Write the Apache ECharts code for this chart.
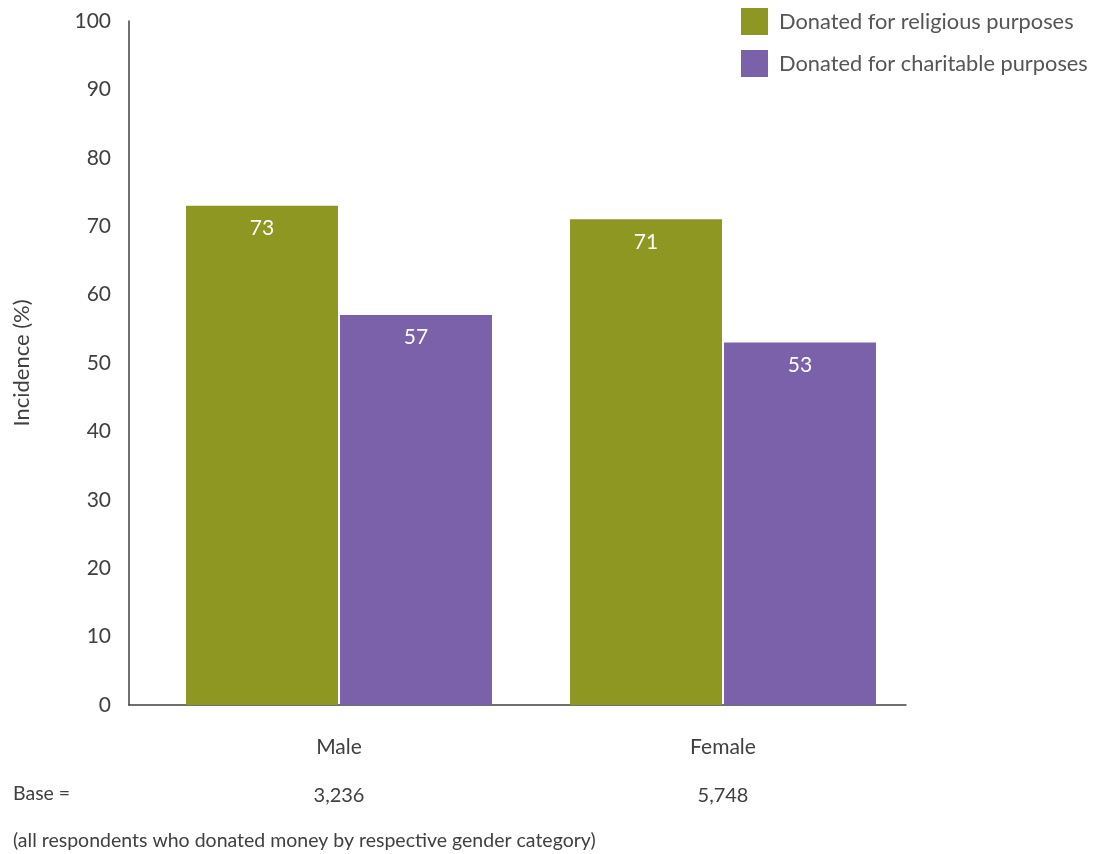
<!DOCTYPE html>
<html><head><meta charset="utf-8">
<script src="https://cdn.jsdelivr.net/npm/echarts@6/dist/echarts.min.js"></script>
<style>html,body{margin:0;padding:0;background:#fff}#c{width:1109px;height:854px}</style>
</head><body><div id="c"></div>
<script>
const categories = ['Male', 'Female'];
const baseValues = ['3,236', '5,748'];
const religious = [73, 71];
const charitable = [57, 53];
const seriesNames = ['Donated for religious purposes', 'Donated for charitable purposes'];
const yTicks = [0, 10, 20, 30, 40, 50, 60, 70, 80, 90, 100];

const FONT = 'Lato';
const green = '#8D9722', purple = '#7A61A9';
const chart = echarts.init(document.getElementById('c'), null, {renderer: 'canvas'});
const labelCfg = {show: true, position: 'insideTop', distance: 12, color: '#fff', fontSize: 21, fontFamily: FONT};
chart.setOption({
  animation: false,
  textStyle: {fontFamily: FONT},
  legend: {
    orient: 'vertical', left: 741, top: 8, padding: 0, itemWidth: 27, itemHeight: 27, itemGap: 15,
    icon: 'rect', data: seriesNames,
    textStyle: {fontSize: 21.8, color: '#555', fontFamily: FONT, padding: [0, 0, 0, 6]}
  },
  grid: [
    {left: 147, right: 194, top: 21, bottom: 149},
    {left: 129, right: 203, top: 21, bottom: 149}
  ],
  xAxis: [
    {type: 'category', gridIndex: 0, data: categories,
     axisLine: {show: false}, axisTick: {show: false},
     axisLabel: {margin: 30, color: '#404040', fontFamily: FONT,
       formatter: (v, i) => '{a|' + v + '}\n{b|' + baseValues[i] + '}',
       rich: {a: {fontSize: 21, color: '#404040', fontFamily: FONT, lineHeight: 24},
              b: {fontSize: 20, color: '#404040', fontFamily: FONT, lineHeight: 74}}}},
    {type: 'value', gridIndex: 1, min: 0, max: 1,
     axisLine: {show: true, lineStyle: {color: '#404040', width: 1.5}},
     axisTick: {show: false}, axisLabel: {show: false}, splitLine: {show: false}}
  ],
  yAxis: [
    {type: 'value', gridIndex: 0, min: 0, max: 100, interval: 10, show: false},
    {type: 'value', gridIndex: 1, min: 0, max: 100, interval: 10,
     name: 'Incidence (%)', nameLocation: 'middle', nameGap: 96, nameRotate: 90,
     nameTextStyle: {fontSize: 22, color: '#404040', fontFamily: FONT},
     axisLine: {show: true, lineStyle: {color: '#404040', width: 1.5}},
     axisTick: {show: false}, splitLine: {show: false},
     axisLabel: {fontSize: 21, color: '#404040', margin: 18, fontFamily: FONT}}
  ],
  graphic: [
    {type: 'text', left: 13, top: 784, style: {text: 'Base =', fontSize: 19.5, fill: '#404040', fontFamily: FONT}},
    {type: 'text', left: 13, top: 831, style: {text: '(all respondents who donated money by respective gender category)', fontSize: 19.5, fill: '#404040', fontFamily: FONT}}
  ],
  series: [
    {name: seriesNames[0], type: 'bar', xAxisIndex: 0, yAxisIndex: 0, data: religious,
     barWidth: 152, barGap: '1.3%', itemStyle: {color: green}, label: labelCfg},
    {name: seriesNames[1], type: 'bar', xAxisIndex: 0, yAxisIndex: 0, data: charitable,
     barWidth: 152, barGap: '1.3%', itemStyle: {color: purple}, label: labelCfg}
  ]
});
</script></body></html>
